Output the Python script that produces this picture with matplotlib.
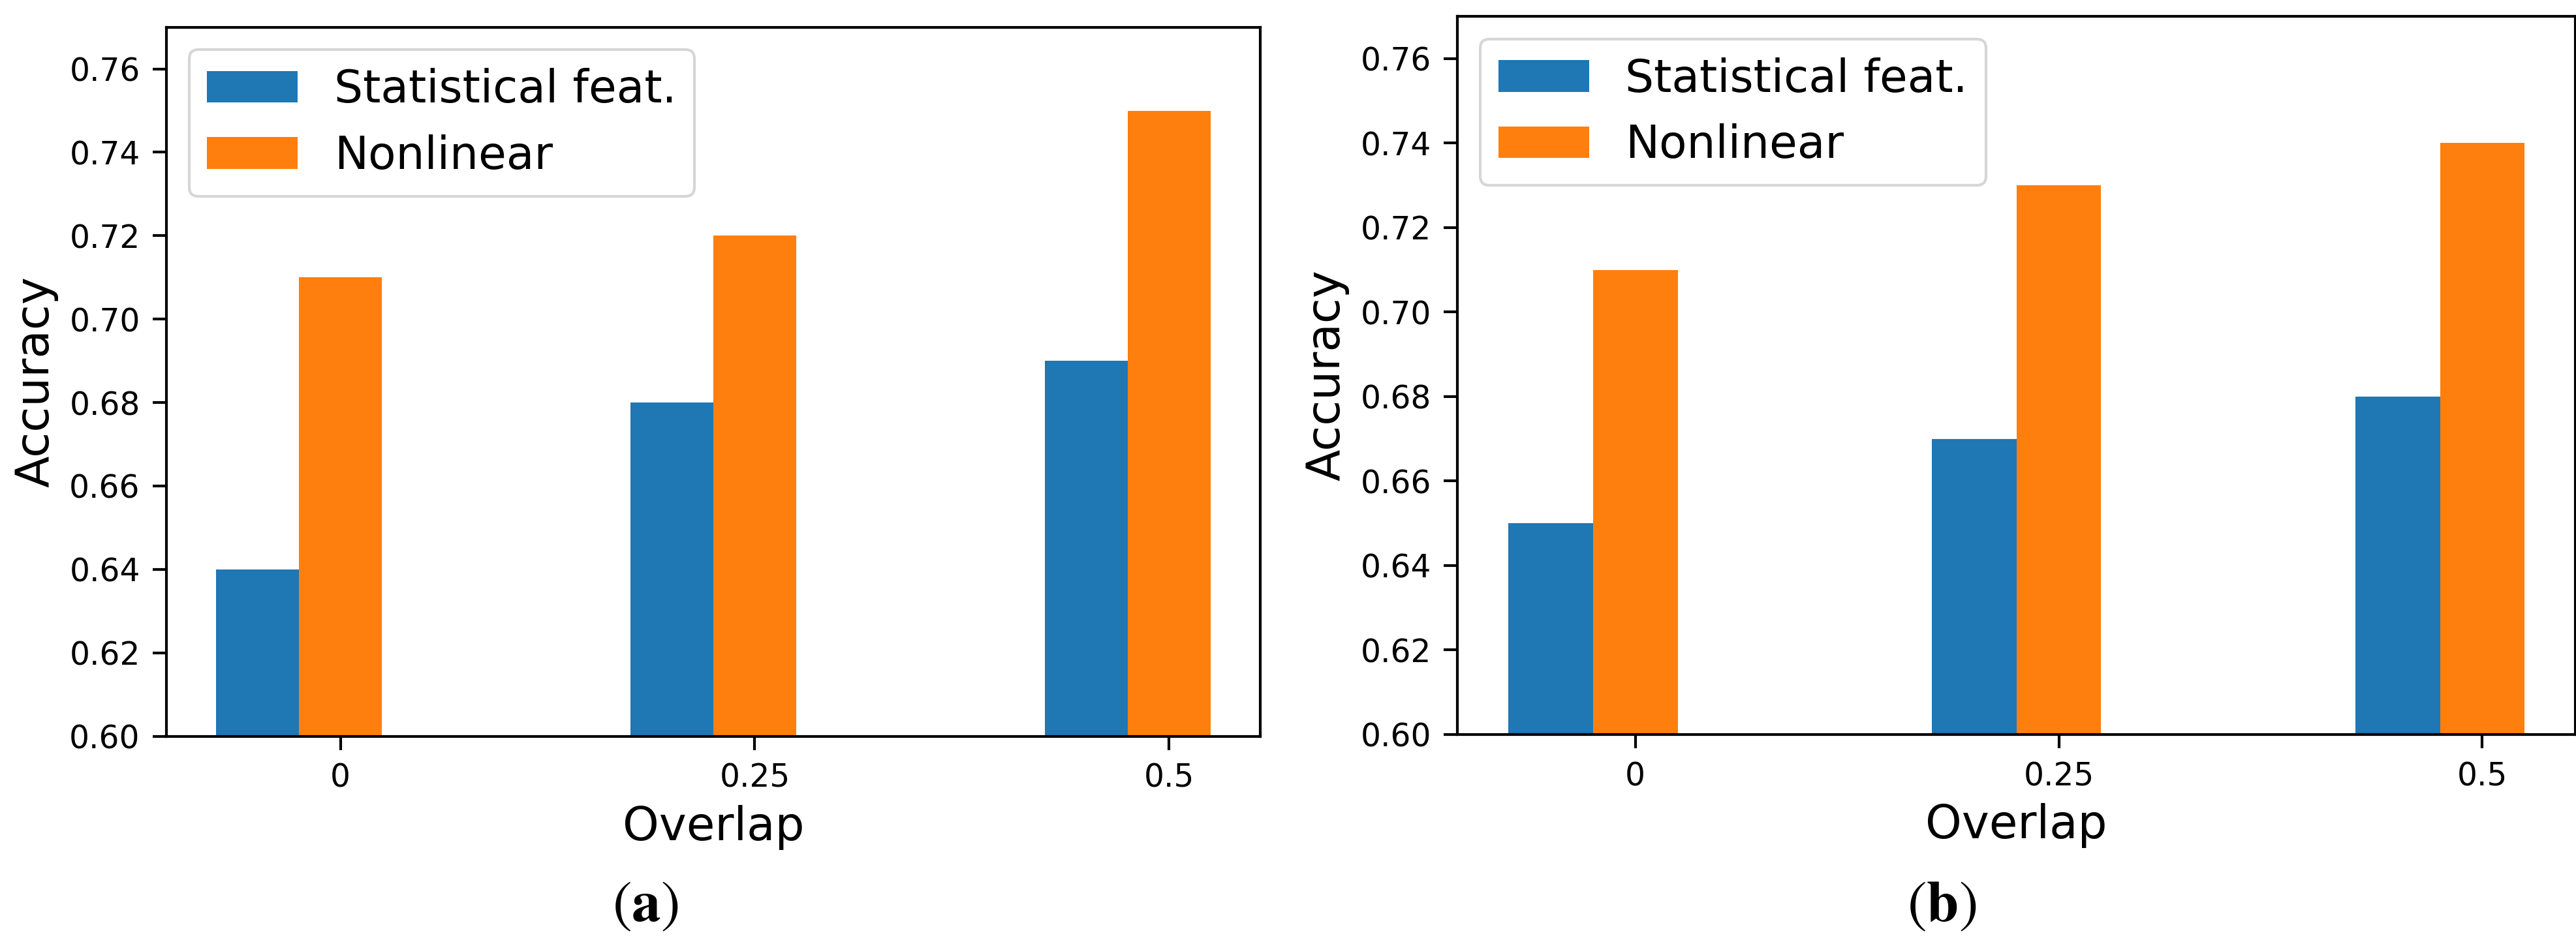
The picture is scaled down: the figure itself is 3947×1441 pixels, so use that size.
import numpy as np
import matplotlib
matplotlib.use('Agg')
import matplotlib.pyplot as plt

overlap = ['0', '0.25', '0.5']
stat_a = [0.64, 0.68, 0.69]
nonlin_a = [0.71, 0.72, 0.75]
stat_b = [0.65, 0.67, 0.68]
nonlin_b = [0.71, 0.73, 0.74]

plt.rcParams['mathtext.fontset'] = 'stix'

fig = plt.figure(figsize=(39.47, 14.41), dpi=100)
ax1 = fig.add_axes([0.0646, 0.2168, 0.4246, 0.7543])
ax2 = fig.add_axes([0.5658, 0.2186, 0.4340, 0.7640])

x = np.arange(len(overlap))
w = 0.2
for ax, s, n, cap, cx in [(ax1, stat_a, nonlin_a, r'$(\mathbf{a})$', 0.2506),
                          (ax2, stat_b, nonlin_b, r'$(\mathbf{b})$', 0.7537)]:
    ax.bar(x - w, s, w, label='Statistical feat.')
    ax.bar(x, n, w, label='Nonlinear')
    ax.set_ylim(0.6, 0.77)
    ax.set_xticks(x)
    ax.set_xticklabels(overlap)
    ax.set_xlabel('Overlap', fontsize=51, labelpad=12)
    ax.set_ylabel('Accuracy', fontsize=51, labelpad=12)
    ax.tick_params(labelsize=35, length=15, width=3, pad=14)
    for sp in ax.spines.values():
        sp.set_linewidth(3)
    leg = ax.legend(loc='upper left', fontsize=50)
    leg.get_frame().set_linewidth(3)
    fig.text(cx, 0.037, cap, fontsize=64, ha='center', va='center')

fig.savefig('out.png', dpi=100)
